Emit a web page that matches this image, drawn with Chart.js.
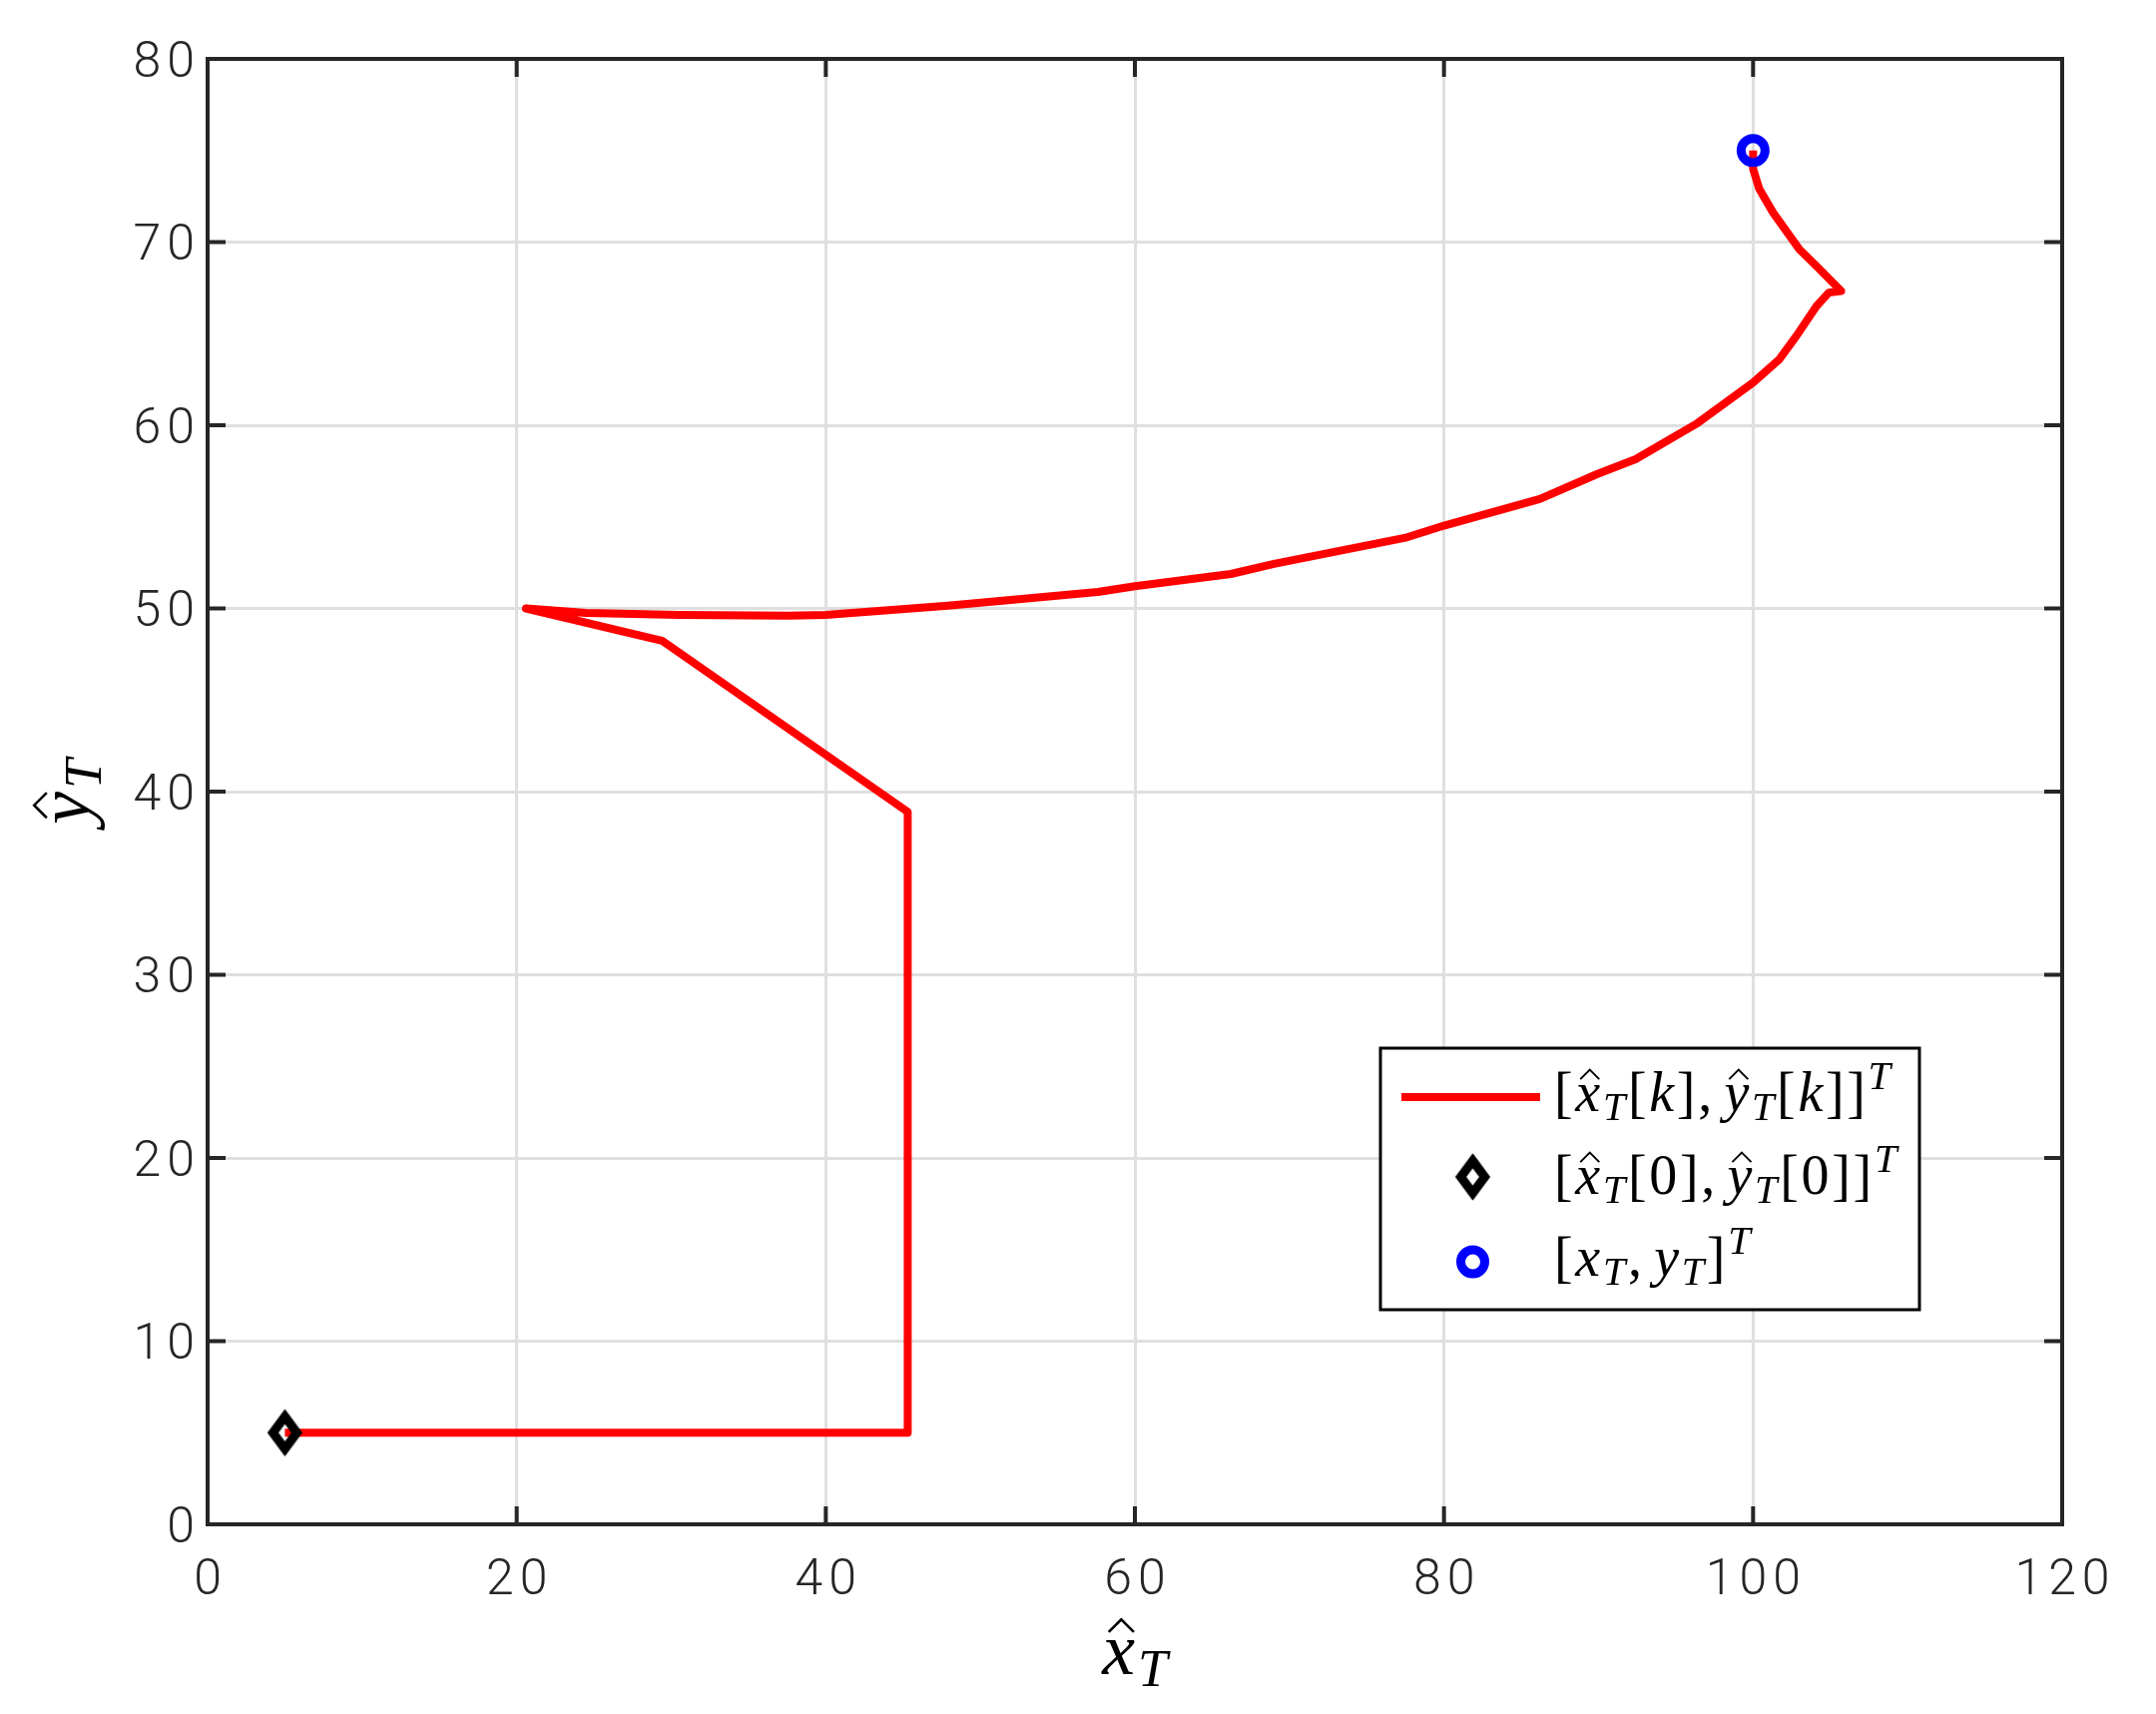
<!DOCTYPE html>
<html><head><meta charset="utf-8">
<script src="https://cdn.jsdelivr.net/npm/chart.js@4.4.1/dist/chart.umd.min.js"></script>
<style>html,body{margin:0;padding:0;background:#fff}canvas{display:block}</style>
</head><body>
<canvas id="c" width="2160" height="1717" style="width:2160px;height:1717px"></canvas>
<script>
// ---- data ----
const xTickValues = [0, 20, 40, 60, 80, 100, 120];
const yTickValues = [0, 10, 20, 30, 40, 50, 60, 70, 80];
const trajX = [5, 45.3, 45.3, 29.4, 20.6, 24.5, 30.5, 37.6, 40, 47.9, 57.6, 60, 66.2, 69.0, 77.6, 80, 86.2, 89.9, 92.4, 96.3, 100, 101.7, 102.8, 104.1, 104.9, 105.7, 104.1, 103.0, 101.3, 100.4, 100.0, 100];
const trajY = [5, 5, 38.9, 48.24, 50.0, 49.75, 49.65, 49.6, 49.65, 50.15, 50.9, 51.21, 51.88, 52.43, 53.88, 54.52, 55.97, 57.33, 58.15, 60.06, 62.33, 63.6, 64.87, 66.5, 67.24, 67.33, 68.69, 69.6, 71.6, 72.9, 74.0, 75];
const startX = [5];
const startY = [5];
const targetX = [100];
const targetY = [75];

// math-text labels (segments: r=roman, i=italic, ih=italic with hat, sub, sup, sp=space)
const legendLine1 = [{t:'[',k:'r'},{t:'x',k:'ih'},{t:'T',k:'sub'},{t:'[',k:'r'},{t:'k',k:'i'},{t:']',k:'r'},{t:',',k:'r'},{k:'sp',w:0.17},{t:'y',k:'ih'},{t:'T',k:'sub'},{t:'[',k:'r'},{t:'k',k:'i'},{t:']',k:'r'},{t:']',k:'r'},{t:'T',k:'sup'}];
const legendLine2 = [{t:'[',k:'r'},{t:'x',k:'ih'},{t:'T',k:'sub'},{t:'[',k:'r'},{t:'0',k:'r'},{t:']',k:'r'},{t:',',k:'r'},{k:'sp',w:0.17},{t:'y',k:'ih'},{t:'T',k:'sub'},{t:'[',k:'r'},{t:'0',k:'r'},{t:']',k:'r'},{t:']',k:'r'},{t:'T',k:'sup'}];
const legendLine3 = [{t:'[',k:'r'},{t:'x',k:'i'},{t:'T',k:'sub'},{t:',',k:'r'},{k:'sp',w:0.17},{t:'y',k:'i'},{t:'T',k:'sub'},{t:']',k:'r'},{t:'T',k:'sup'}];
const xTitle = [{t:'x',k:'ih'},{t:'T',k:'sub'}];
const yTitle = [{t:'y',k:'ih'},{t:'T',k:'sub'}];

// ---- styles ----
const AX = '#262626';
const RED = '#ff0000';
const BLUE = '#0000ff';
const SERIF = '"Liberation Serif", "Times New Roman", serif';

const diamond = document.createElement('canvas');
diamond.width = 46; diamond.height = 58;
(function(){
  const g = diamond.getContext('2d');
  g.strokeStyle = '#000'; g.lineWidth = 9; g.lineJoin = 'miter';
  g.beginPath(); g.moveTo(23, 12.75); g.lineTo(35, 29); g.lineTo(23, 45.25); g.lineTo(11, 29); g.closePath(); g.stroke();
})();

function layoutMath(ctx, segs, size, gap) {
  const subSize = size * 0.72;
  const items = [];
  let x = 0;
  for (const s of segs) {
    if (s.k === 'sp') { x += s.w * size; continue; }
    let font, dy = 0, sz = size;
    if (s.k === 'r') font = size + 'px ' + SERIF;
    else if (s.k === 'i' || s.k === 'ih') font = 'italic ' + size + 'px ' + SERIF;
    else if (s.k === 'sub') { sz = subSize; font = 'italic ' + subSize + 'px ' + SERIF; dy = size * 0.165; }
    else if (s.k === 'sup') { sz = subSize; font = 'italic ' + subSize + 'px ' + SERIF; dy = -size * 0.39; }
    ctx.font = font;
    const w = ctx.measureText(s.t).width;
    items.push({t: s.t, font, x, dy, w, hat: s.k === 'ih', sz});
    x += w + gap * size;
  }
  return {items, width: x - gap * size};
}
function drawMath(ctx, segs, x0, y0, size, gap, align) {
  ctx.save();
  ctx.letterSpacing = '0px';
  const L = layoutMath(ctx, segs, size, gap);
  let ox = x0;
  if (align === 'center') ox = x0 - L.width / 2;
  ctx.fillStyle = '#000';
  ctx.textBaseline = 'alphabetic';
  ctx.textAlign = 'left';
  for (const it of L.items) {
    ctx.font = it.font;
    ctx.fillText(it.t, ox + it.x, y0 + it.dy);
    if (it.hat) {
      const cx = ox + it.x + it.w * 0.58;
      const hw = size * 0.17;
      ctx.beginPath();
      ctx.moveTo(cx - hw, y0 - size * 0.57);
      ctx.lineTo(cx, y0 - size * 0.74);
      ctx.lineTo(cx + hw, y0 - size * 0.57);
      ctx.lineWidth = Math.max(1.5, size * 0.035);
      ctx.strokeStyle = '#000';
      ctx.lineJoin = 'miter';
      ctx.stroke();
    }
  }
  ctx.restore();
}

const decor = {
  id: 'decor',
  beforeDraw(chart) {
    chart.ctx.letterSpacing = '6px';
  },
  afterDraw(chart) {
    const ctx = chart.ctx;
    const a = chart.chartArea;
    const xs = chart.scales.x, ys = chart.scales.y;
    ctx.save();
    ctx.letterSpacing = '0px';
    // box
    ctx.strokeStyle = AX; ctx.lineWidth = 4; ctx.lineCap = 'square';
    ctx.strokeRect(a.left, a.top, a.right - a.left, a.bottom - a.top);
    // inward ticks on all sides
    const TL = 18;
    ctx.lineCap = 'butt';
    ctx.beginPath();
    for (const v of xTickValues) {
      const px = xs.getPixelForValue(v);
      ctx.moveTo(px, a.bottom); ctx.lineTo(px, a.bottom - TL);
      ctx.moveTo(px, a.top); ctx.lineTo(px, a.top + TL);
    }
    for (const v of yTickValues) {
      const py = ys.getPixelForValue(v);
      ctx.moveTo(a.left, py); ctx.lineTo(a.left + TL, py);
      ctx.moveTo(a.right, py); ctx.lineTo(a.right - TL, py);
    }
    ctx.stroke();

    // legend
    const lx = 1383, ly = 1050, lw = 540, lh = 262;
    ctx.fillStyle = '#fff';
    ctx.fillRect(lx, ly, lw, lh);
    ctx.strokeStyle = '#000'; ctx.lineWidth = 3;
    ctx.strokeRect(lx, ly, lw, lh);
    const ds = chart.data.datasets;
    ctx.strokeStyle = ds[0].borderColor; ctx.lineWidth = ds[0].borderWidth;
    ctx.beginPath(); ctx.moveTo(1404, 1099); ctx.lineTo(1543, 1099); ctx.stroke();
    ctx.drawImage(diamond, 1475.5 - diamond.width / 2, 1179 - diamond.height / 2);
    ctx.strokeStyle = ds[2].borderColor; ctx.lineWidth = ds[2].borderWidth;
    ctx.beginPath(); ctx.arc(1475.5, 1264, ds[2].pointRadius, 0, Math.PI * 2); ctx.stroke();
    drawMath(ctx, legendLine1, 1557, 1113, 56, 0.048, 'left');
    drawMath(ctx, legendLine2, 1557, 1196, 56, 0.048, 'left');
    drawMath(ctx, legendLine3, 1557, 1278, 56, 0.048, 'left');

    // axis titles
    drawMath(ctx, xTitle, (a.left + a.right) / 2, 1677, 74, 0.04, 'center');
    ctx.save();
    ctx.translate(89, (a.top + a.bottom) / 2);
    ctx.rotate(-Math.PI / 2);
    drawMath(ctx, yTitle, 0, 0, 74, 0.04, 'center');
    ctx.restore();
    ctx.restore();
  }
};

const tickFont = {family: 'Roboto, "Open Sans", sans-serif', size: 50, weight: 300, lineHeight: 1.2};

new Chart(document.getElementById('c'), {
  type: 'scatter',
  data: {
    datasets: [
      {
        label: 'trajectory',
        data: trajX.map((x, i) => ({x, y: trajY[i]})),
        showLine: true, borderColor: RED, backgroundColor: RED, borderWidth: 8,
        pointRadius: 0, borderJoinStyle: 'round', tension: 0, fill: false, order: 3
      },
      {
        label: 'start',
        data: startX.map((x, i) => ({x, y: startY[i]})),
        showLine: false, pointStyle: diamond, pointRadius: 20, order: 1
      },
      {
        label: 'target',
        data: targetX.map((x, i) => ({x, y: targetY[i]})),
        showLine: false, pointStyle: 'circle', pointRadius: 12, borderWidth: 9,
        borderColor: BLUE, backgroundColor: 'rgba(0,0,0,0)', order: 2
      }
    ]
  },
  options: {
    responsive: false, animation: false, devicePixelRatio: 1, events: [],
    layout: {padding: {left: 0, top: 59, right: 94, bottom: 0}},
    plugins: {legend: {display: false}, tooltip: {enabled: false}},
    scales: {
      x: {
        type: 'linear', min: 0, max: 120,
        afterBuildTicks: s => { s.ticks = xTickValues.map(v => ({value: v})); },
        afterFit: s => { s.height = 190; },
        grid: {color: '#dfdfdf', lineWidth: 3, drawTicks: false},
        border: {display: false},
        ticks: {font: tickFont, color: AX, padding: 27, labelOffset: 3, maxRotation: 0, autoSkip: false}
      },
      y: {
        type: 'linear', min: 0, max: 80,
        afterBuildTicks: s => { s.ticks = yTickValues.map(v => ({value: v})); },
        afterFit: s => { s.width = 208; },
        grid: {color: '#dfdfdf', lineWidth: 3, drawTicks: false},
        border: {display: false},
        ticks: {font: tickFont, color: AX, padding: 7, labelOffset: 5, autoSkip: false}
      }
    }
  },
  plugins: [decor]
});
</script>
</body></html>
